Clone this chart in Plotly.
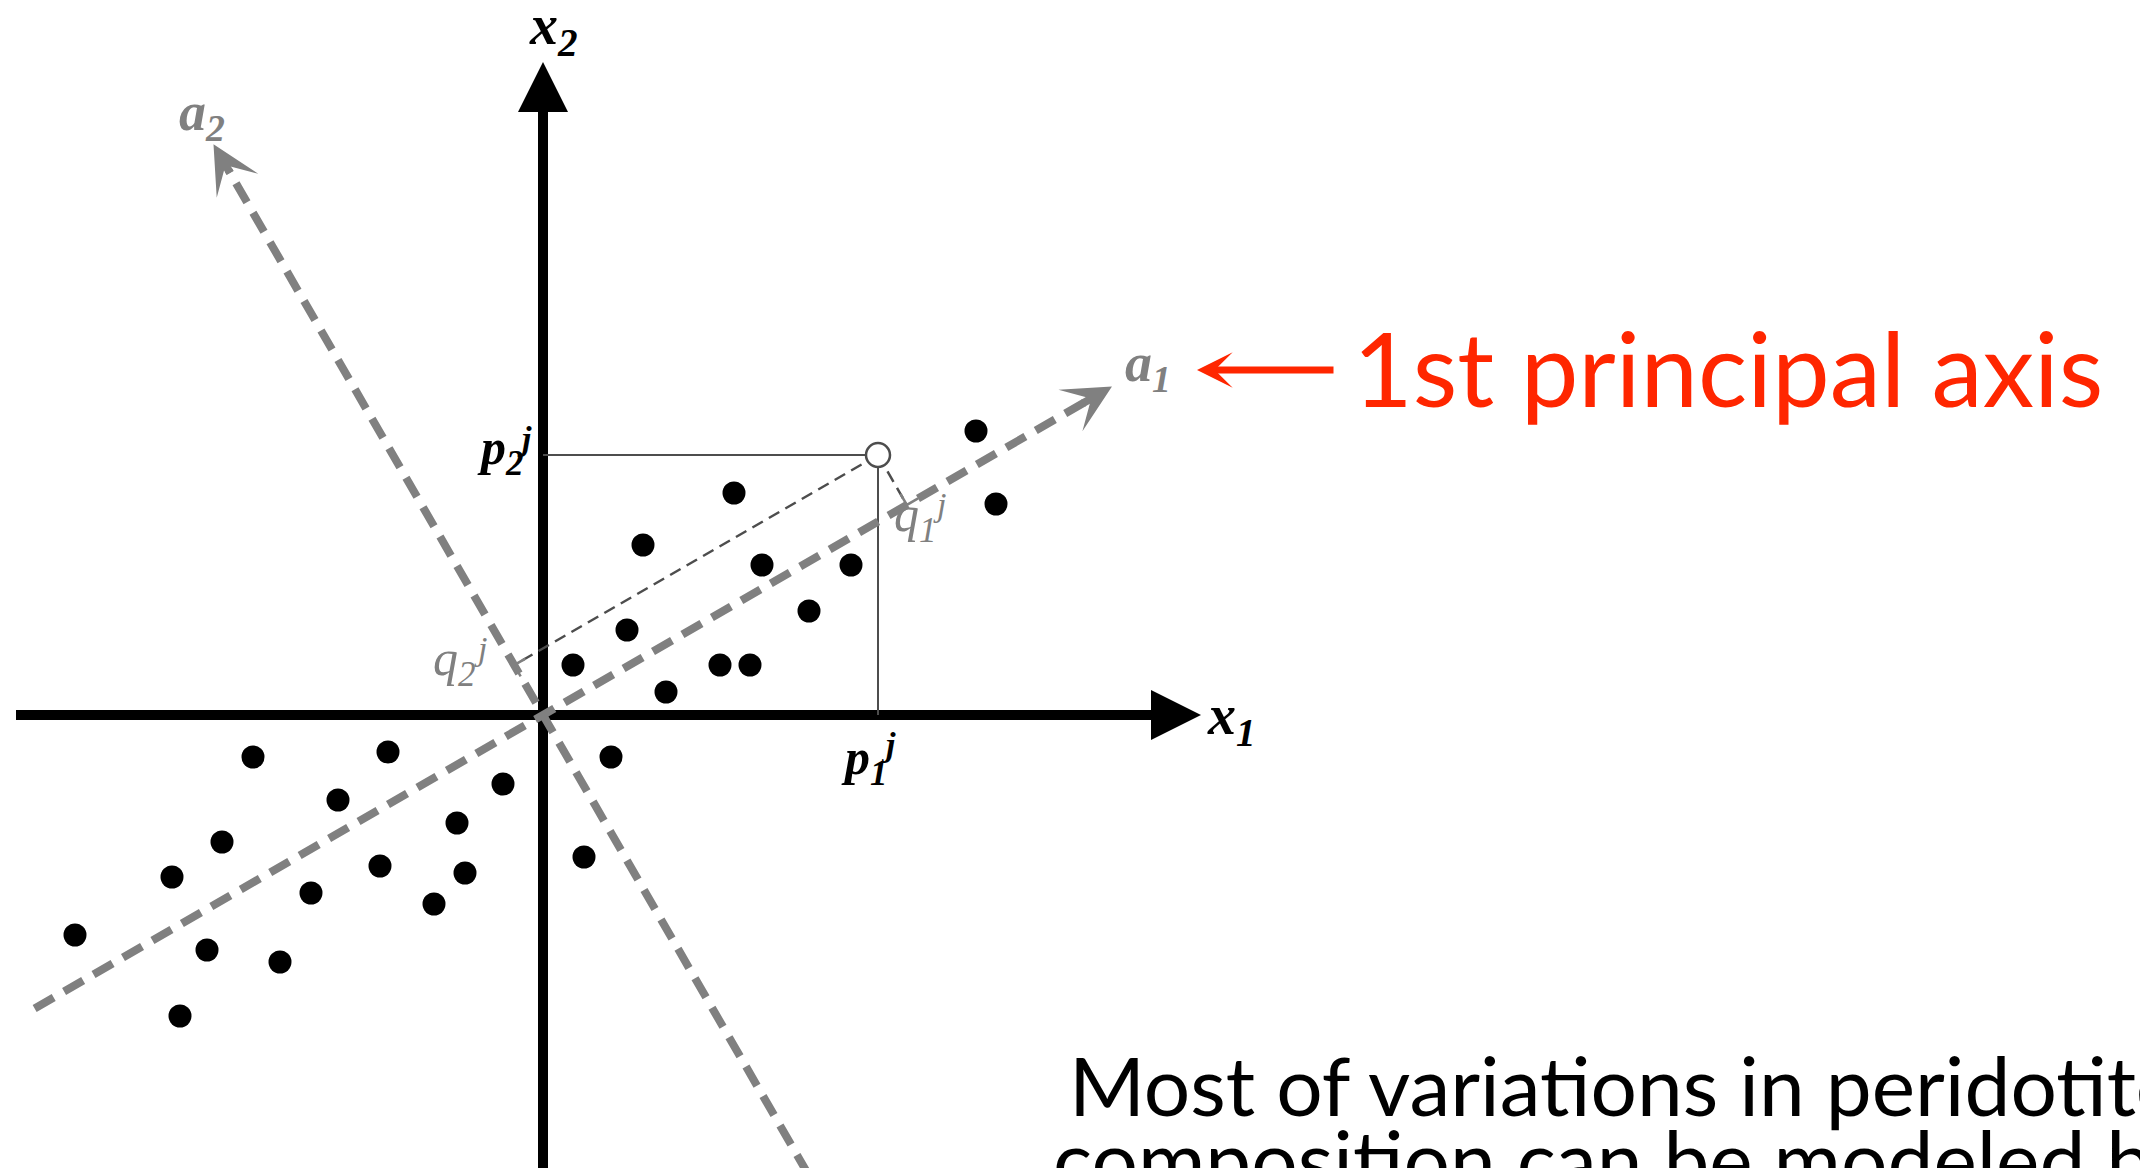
import numpy as np
import plotly.graph_objects as go

# Sample scores in the (x1, x2) plane
x1_vals = [4.33, 4.53, 1.91, 1.00, 2.19, 3.08, 2.66, 0.84, 0.30, 1.77, 2.07, 1.23,
           0.68, 0.41,
           -2.90, -1.55, -2.05, -0.40, -0.86, -3.21, -3.71, -1.63, -0.78, -2.32, -1.09,
           -4.68, -3.36, -2.63, -3.63]
x2_vals = [2.84, 2.11, 2.22, 1.70, 1.50, 1.50, 1.04, 0.85, 0.50, 0.50, 0.50, 0.23,
           -0.42, -1.42,
           -0.42, -0.37, -0.85, -0.69, -1.08, -1.27, -1.62, -1.51, -1.58, -1.78, -1.89,
           -2.20, -2.35, -2.47, -3.01]

# Highlighted sample j
pj_x1 = 3.35
pj_x2 = 2.60

# Principal axis directions, degrees from x1
a1_angle = 30.0
a2_angle = 120.0

# Drawn extent of each axis (start, arrow tip)
x1_axis = [-5.27, 6.58]
x2_axis = [-4.53, 6.53]
a1_axis = [-5.87, 6.57]
a2_axis = [-5.30, 6.59]

# Figure frame in data units
x_range = [-5.43, 15.97]
y_range = [-4.53, 7.15]

BLACK = "#000000"
GRAY = "#808080"
DARK = "#4d4d4d"
RED = "#ff2600"

u1 = np.array([np.cos(np.radians(a1_angle)), np.sin(np.radians(a1_angle))])
u2 = np.array([np.cos(np.radians(a2_angle)), np.sin(np.radians(a2_angle))])
pj = np.array([pj_x1, pj_x2])
q1 = float(pj @ u1)
q2 = float(pj @ u2)
foot1 = q1 * u1
foot2 = q2 * u2

fig = go.Figure()


def line(xs, ys, color, width, dash="solid"):
    fig.add_trace(go.Scatter(x=list(xs), y=list(ys), mode="lines",
                             line=dict(color=color, width=width, dash=dash),
                             hoverinfo="skip", showlegend=False))


# Original coordinate axes
line([x1_axis[0], x1_axis[1] - 0.3], [0, 0], BLACK, 10)
line([0, 0], [x2_axis[0], x2_axis[1] - 0.3], BLACK, 10)

# Projections of sample j onto x1 and x2
line([0, pj_x1], [pj_x2, pj_x2], DARK, 2)
line([pj_x1, pj_x1], [0, pj_x2], DARK, 2)

# Projections of sample j onto a1 and a2
line([pj[0], foot2[0]], [pj[1], foot2[1]], DARK, 2.5, "12px,7px")
line([pj[0], foot1[0]], [pj[1], foot1[1]], DARK, 2.5, "12px,7px")

# Right-angle marks at the feet
s = 0.13
m1 = [foot1 + s * u2, foot1, foot1 + s * u1]
m2 = [foot2 + s * u1, foot2, foot2 - s * u2]
line([p[0] for p in m1], [p[1] for p in m1], GRAY, 2.5)
line([p[0] for p in m2], [p[1] for p in m2], GRAY, 2.5)

# Principal axes
for ax_ext, u in ((a1_axis, u1), (a2_axis, u2)):
    t = np.array([ax_ext[0], ax_ext[1] - 0.3])
    line(t * u[0], t * u[1], GRAY, 8, "22px,12px")

# Samples
fig.add_trace(go.Scatter(x=x1_vals, y=x2_vals, mode="markers",
                         marker=dict(size=23, color=BLACK, line=dict(width=0)),
                         hoverinfo="skip", showlegend=False))
fig.add_trace(go.Scatter(x=[pj_x1], y=[pj_x2], mode="markers",
                         marker=dict(size=24, color="white", line=dict(width=2.5, color=DARK)),
                         hoverinfo="skip", showlegend=False))

annotations = []


def head(tip, direction, color, width, style, size, back=0.35):
    tail = tip - back * direction
    annotations.append(dict(x=tip[0], y=tip[1], ax=tail[0], ay=tail[1],
                            xref="x", yref="y", axref="x", ayref="y",
                            text="", showarrow=True, arrowhead=style,
                            arrowwidth=width, arrowsize=size, arrowcolor=color,
                            standoff=0, startstandoff=0))


head(np.array([x1_axis[1], 0.0]), np.array([1.0, 0.0]), BLACK, 10, 2, 1.0)
head(np.array([0.0, x2_axis[1]]), np.array([0.0, 1.0]), BLACK, 10, 2, 1.0)
head(a1_axis[1] * u1, u1, GRAY, 8, 3, 1.0)
head(a2_axis[1] * u2, u2, GRAY, 8, 3, 1.0)

# Pointer to the first principal axis
head(np.array([6.54, 3.45]), np.array([-1.0, 0.0]), RED, 7, 3, 0.85, back=1.38)


def label(text, x, y, size, color, bold=True, family="Liberation Serif",
          style="italic", xanchor="left"):
    annotations.append(dict(x=x, y=y, xref="x", yref="y", text=text, showarrow=False,
                            xanchor=xanchor, yanchor="middle",
                            font=dict(family=family, size=size, color=color,
                                      weight="bold" if bold else "normal", style=style)))


label("x<sub>2</sub>", -0.16, 6.86, 56, BLACK)
label("x<sub>1</sub>", 6.62, -0.04, 56, BLACK)
label("a<sub>2</sub>", -3.66, 6.00, 54, GRAY)
label("a<sub>1</sub>", 5.80, 3.49, 54, GRAY)

label("p<sub>2</sub>", -0.68, 2.64, 50, BLACK)
label("j", -0.19, 2.77, 34, BLACK, xanchor="center")
label("p<sub>1</sub>", 2.96, -0.46, 50, BLACK)
label("j", 3.45, -0.29, 34, BLACK, xanchor="center")
label("q<sub>1</sub>", 3.49, 1.97, 50, GRAY, bold=False)
label("j", 3.96, 2.11, 34, GRAY, bold=False, xanchor="center")
label("q<sub>2</sub>", -1.12, 0.53, 50, GRAY, bold=False)
label("j", -0.63, 0.67, 34, GRAY, bold=False, xanchor="center")

label("1st principal axis", 8.08, 3.48, 103, RED, bold=False, family="Lato", style="normal")
label("Most of variations in peridotite", 5.24, -3.69, 82, BLACK, bold=False,
      family="Lato", style="normal")
label("composition can be modeled by", 5.08, -4.43, 82, BLACK, bold=False,
      family="Lato", style="normal")

fig.update_layout(
    width=2140, height=1168,
    margin=dict(l=0, r=0, t=0, b=0),
    paper_bgcolor="white", plot_bgcolor="white",
    xaxis=dict(range=x_range, visible=False, fixedrange=True),
    yaxis=dict(range=y_range, visible=False, fixedrange=True),
    showlegend=False,
    annotations=annotations,
)

fig.write_html("out.html", config={"displayModeBar": False})
